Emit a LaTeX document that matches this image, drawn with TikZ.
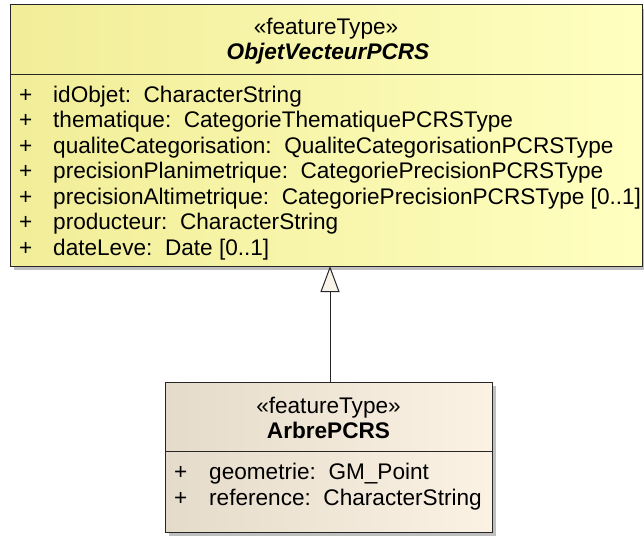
\documentclass[tikz,border=0pt]{standalone}
\usepackage{fontspec}
\setmainfont{Liberation Sans}
\usetikzlibrary{arrows.meta}
\definecolor{ylL}{RGB}{241,237,152}
\definecolor{ylR}{RGB}{255,255,192}
\definecolor{bgL}{RGB}{228,219,202}
\definecolor{bgR}{RGB}{251,242,228}
\definecolor{tipfill}{RGB}{250,243,232}
\begin{document}
\begin{tikzpicture}[x=1pt,y=-1pt,
  box/.style={draw=black!85, line width=1pt, anchor=north west, inner sep=0, outer sep=0},
  shadowbox/.style={fill=black!25, draw=none, anchor=north west, inner sep=0, outer sep=0},
  txt/.style={anchor=base west, inner sep=0, font=\fontsize{22.6}{25}\selectfont},
  ctxt/.style={anchor=base, inner sep=0, font=\fontsize{22.6}{25}\selectfont},
  sep/.style={draw=black!85, line width=1pt},
  gen/.style={draw=black!85, line width=1pt, -{Triangle[length=26pt,width=19pt,fill=tipfill]}}]
\useasboundingbox (0,0) rectangle (644,535);
% shadows
\node[shadowbox, minimum width=630pt, minimum height=261pt] (shA) at (14,9) {};
\node[shadowbox, minimum width=327pt, minimum height=150pt] (shB) at (169,386) {};
% parent box
\node[box, left color=ylL, right color=ylR, minimum width=632pt, minimum height=261pt] (parent) at (10,5) {};
\coordinate (d1) at (0,74);
\draw[sep] (parent.west |- d1) -- (parent.east |- d1);
\node[ctxt] (pst) at (326,35) {«featureType»};
\node[ctxt, font=\fontsize{22.6}{25}\selectfont\bfseries\itshape] (pname) at (328,59.5) {ObjetVecteurPCRS};
\node[txt] (p1) at (19,102) {+};
\node[txt] (a1) at (53,102) {idObjet:\ \ CharacterString};
\node[txt] (p2) at (19,127.5) {+};
\node[txt] (a2) at (53,127.5) {thematique:\ \ CategorieThematiquePCRSType};
\node[txt] (p3) at (19,153) {+};
\node[txt] (a3) at (53,153) {qualiteCategorisation:\ \ QualiteCategorisationPCRSType};
\node[txt] (p4) at (19,178.5) {+};
\node[txt] (a4) at (53,178.5) {precisionPlanimetrique:\ \ CategoriePrecisionPCRSType};
\node[txt] (p5) at (19,204) {+};
\node[txt] (a5) at (53,204) {precisionAltimetrique:\ \ CategoriePrecisionPCRSType [0..1]};
\node[txt] (p6) at (19,229.5) {+};
\node[txt] (a6) at (53,229.5) {producteur:\ \ CharacterString};
\node[txt] (p7) at (19,255) {+};
\node[txt] (a7) at (53,255) {dateLeve:\ \ Date [0..1]};
% child box
\node[box, left color=bgL, right color=bgR, minimum width=327pt, minimum height=150pt] (child) at (165,382) {};
\coordinate (d2) at (0,451);
\draw[sep] (child.west |- d2) -- (child.east |- d2);
\node[ctxt] (cst) at (328.5,413) {«featureType»};
\node[ctxt, font=\fontsize{22.6}{25}\selectfont\bfseries] (cname) at (328.5,438) {ArbrePCRS};
\node[txt] (q1) at (174,479) {+};
\node[txt] (b1) at (209,479) {geometrie:\ \ GM\_Point};
\node[txt] (q2) at (174,505) {+};
\node[txt] (b2) at (209,505) {reference:\ \ CharacterString};
% generalization
\coordinate (ax) at (330,0);
\draw[gen] (child.north -| ax) -- (parent.south -| ax);
\end{tikzpicture}
\end{document}
